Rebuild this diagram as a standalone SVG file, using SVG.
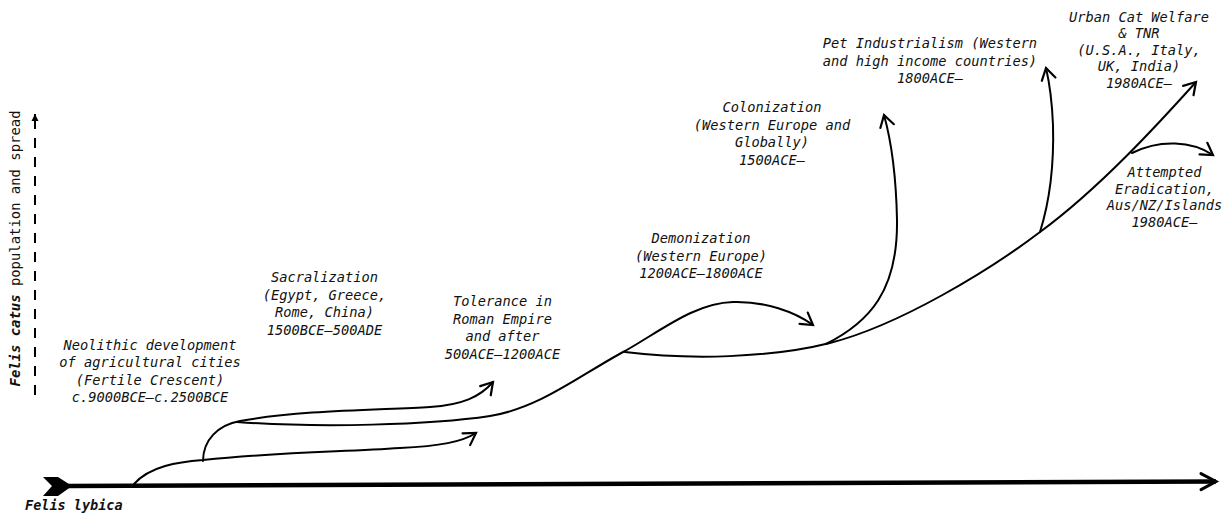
<svg xmlns="http://www.w3.org/2000/svg" width="1225" height="516" viewBox="0 0 1225 516">
<style>
.lbl{font-family:"DejaVu Sans Mono","Liberation Mono",monospace;font-size:13.7px;font-style:italic;fill:#111;text-anchor:middle}
.ln{fill:none;stroke:#000;stroke-width:2;stroke-linecap:round}
</style>
<defs>
<marker id="ah" markerUnits="userSpaceOnUse" viewBox="0 0 14 16" refX="12.5" refY="8" markerWidth="14" markerHeight="16" orient="auto" overflow="visible">
<path d="M1,1 L12.5,8 L1,15" fill="none" stroke="#000" stroke-width="2.2" stroke-linecap="round" stroke-linejoin="miter"/>
</marker>
<marker id="ahBig" markerUnits="userSpaceOnUse" viewBox="0 0 18 18" refX="16" refY="9" markerWidth="18" markerHeight="18" orient="auto" overflow="visible">
<path d="M1,1 L16,9 L1,17" fill="none" stroke="#000" stroke-width="3" stroke-linecap="round"/>
</marker>
<marker id="ahSmall" markerUnits="userSpaceOnUse" viewBox="0 0 8 8" refX="7" refY="4" markerWidth="8" markerHeight="8" orient="auto" overflow="visible">
<path d="M0,0.5 L7,4 L0,7.5 Z" fill="#000"/>
</marker>
</defs>

<g id="axes">
<line x1="66" y1="486" x2="1216" y2="481.5" stroke="#000" stroke-width="4.5" marker-end="url(#ahBig)"/>
<path d="M43,477 L58,477 L72,486 L58,496 L43,496 L52,486 Z" fill="#000"/>
<line x1="35" y1="395" x2="35" y2="114" stroke="#000" stroke-width="2" stroke-dasharray="10 9" marker-end="url(#ahSmall)"/>
<line x1="35" y1="125" x2="35" y2="114" stroke="#000" stroke-width="2"/>
<text x="25" y="510" font-family="DejaVu Sans Mono, Liberation Mono, monospace" font-size="13.5" font-weight="bold" font-style="italic" fill="#111">Felis lybica</text>
<text transform="translate(20,248.5) rotate(-90)" font-family="DejaVu Sans Mono, Liberation Mono, monospace" font-size="13.9" fill="#111" text-anchor="middle"><tspan font-weight="bold" font-style="italic">Felis catus</tspan> population and spread</text>
</g>

<g id="connectors">
<path class="ln" d="M134,484 C150,466 178,462 203,460 C280,452 340,452 400,448 C440,446 462,442 476,433" marker-end="url(#ah)"/>
<path class="ln" d="M203,461 C203,440 218,425 240,421 C300,410 380,410 430,407 C462,405 480,397 493,382" marker-end="url(#ah)"/>
<path class="ln" d="M237,422 C320,428 430,425 490,416 C540,408 580,375 625,351 C662,330 695,303 733,302 C765,301 795,312 813,325" marker-end="url(#ah)"/>
<path class="ln" d="M625,352 C690,360 770,358 830,343 C900,325 990,270 1040,232 C1100,188 1160,122 1196,82" marker-end="url(#ah)"/>
<path class="ln" d="M826,344 C870,322 898,290 897,220 C896,170 891,140 884,115" marker-end="url(#ah)"/>
<path class="ln" d="M1040,232 C1050,200 1054,160 1053,125 C1052,100 1050,85 1046,68" marker-end="url(#ah)"/>
<path class="ln" d="M1132,153 C1160,139 1192,141 1213,155" marker-end="url(#ah)"/>
</g>

<g id="node-neolithic">
<text class="lbl" x="150" y="349.5">Neolithic development</text>
<text class="lbl" x="150" y="367">of agricultural cities</text>
<text class="lbl" x="150" y="384.5">(Fertile Crescent)</text>
<text class="lbl" x="150" y="402">c.9000BCE–c.2500BCE</text>
</g>
<g id="node-sacralization">
<text class="lbl" x="324.5" y="282">Sacralization</text>
<text class="lbl" x="324.5" y="299.5">(Egypt, Greece,</text>
<text class="lbl" x="324.5" y="317">Rome, China)</text>
<text class="lbl" x="324.5" y="334.5">1500BCE–500ADE</text>
</g>
<g id="node-tolerance">
<text class="lbl" x="502.5" y="306">Tolerance in</text>
<text class="lbl" x="502.5" y="323.5">Roman Empire</text>
<text class="lbl" x="502.5" y="341">and after</text>
<text class="lbl" x="502.5" y="358.5">500ACE–1200ACE</text>
</g>
<g id="node-demonization">
<text class="lbl" x="701" y="243">Demonization</text>
<text class="lbl" x="701" y="260.5">(Western Europe)</text>
<text class="lbl" x="701" y="278">1200ACE–1800ACE</text>
</g>
<g id="node-colonization">
<text class="lbl" x="772" y="112">Colonization</text>
<text class="lbl" x="772" y="129.5">(Western Europe and</text>
<text class="lbl" x="772" y="147">Globally)</text>
<text class="lbl" x="772" y="164.5">1500ACE–</text>
</g>
<g id="node-pet">
<text class="lbl" x="930" y="48">Pet Industrialism (Western</text>
<text class="lbl" x="930" y="65.5">and high income countries)</text>
<text class="lbl" x="930" y="83">1800ACE–</text>
</g>
<g id="node-urban">
<text class="lbl" x="1139" y="21.5">Urban Cat Welfare</text>
<text class="lbl" x="1139" y="38">&amp; TNR</text>
<text class="lbl" x="1139" y="54.5">(U.S.A., Italy,</text>
<text class="lbl" x="1139" y="71">UK, India)</text>
<text class="lbl" x="1139" y="87.5">1980ACE–</text>
</g>
<g id="node-eradication">
<text class="lbl" x="1164.5" y="177">Attempted</text>
<text class="lbl" x="1164.5" y="193.5">Eradication,</text>
<text class="lbl" x="1164.5" y="210">Aus/NZ/Islands</text>
<text class="lbl" x="1164.5" y="226.5">1980ACE–</text>
</g>
</svg>
